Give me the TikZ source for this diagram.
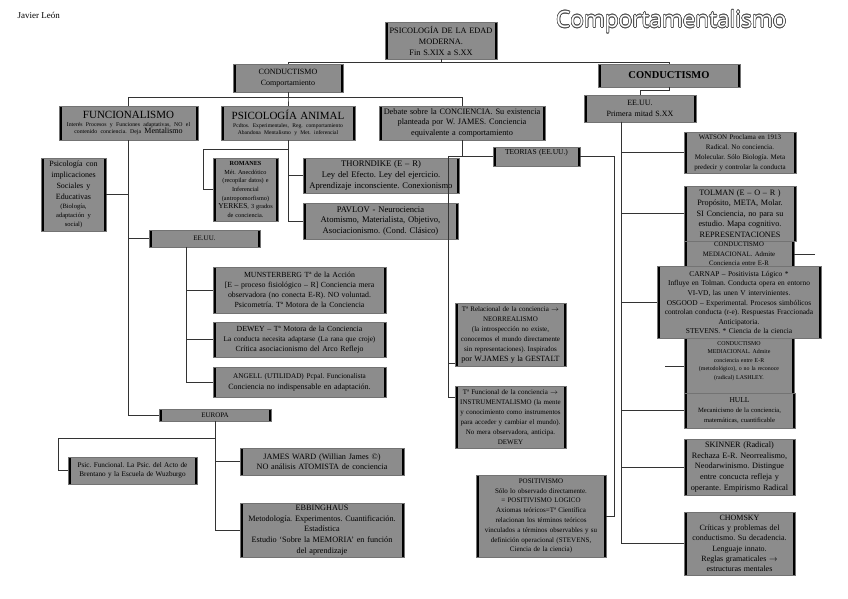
\documentclass[tikz,border=0pt]{standalone}
\usepackage{fontspec}
\setmainfont{Liberation Serif}
\newfontfamily\titlefont{Open Sans}
\usepackage{contour}
\contourlength{0.6pt}
\frenchspacing
\newcommand\fs[2]{\fontsize{#1}{#2}\selectfont}
\definecolor{boxgray}{HTML}{8C8C8C}
\tikzset{
  gbox/.style={fill=boxgray, draw=black!55, line width=0.4pt, inner xsep=0.5pt, inner ysep=0.5pt,
    align=center, text=black,
    path picture={\draw[line width=5pt, black]
      (path picture bounding box.north west) -- (path picture bounding box.south west)
      (path picture bounding box.north east) -- (path picture bounding box.south east);}},
  conn/.style={draw=black!80, line width=0.9pt},
  plain/.style={align=center, inner sep=0pt, text=black}
}
\begin{document}
\begin{tikzpicture}[x=1pt, y=-1pt]
\useasboundingbox (0,0) rectangle (848,599);

\node[anchor=west, font=\fs{9}{11}] (author) at (14,15) {Javier León};
\node[anchor=west, inner sep=0pt] (title) at (556,22) {\fs{22.5}{26}\titlefont\contour{black!70}{\textcolor{white}{Comportamentalismo}}};

% ---- boxes ----
\node[gbox, minimum width=112, minimum height=37, text width=111, font=\fs{8.3}{11}] (top) at (441,40.5)
  {PSICOLOGÍA DE LA EDAD\\MODERNA.\\Fin S.XIX a S.XX};
\node[gbox, minimum width=110, minimum height=28, text width=109, font=\fs{8}{11}] (cond1) at (288,78)
  {CONDUCTISMO\\Comportamiento};
\node[gbox, minimum width=142, minimum height=23, text width=141, font=\fs{10.5}{12}\bfseries] (cond2) at (669,75.5)
  {CONDUCTISMO};
\node[gbox, minimum width=112, minimum height=27, text width=111, font=\fs{8}{11}] (eeuu2) at (640,108.5)
  {EE.UU.\\Primera mitad S.XX};

\node[gbox, minimum width=139, minimum height=34, text width=138] (func) at (128.5,123)
  {{\fs{11}{12}FUNCIONALISMO\par}{\fs{5.8}{7.5}Interés Procesos y Funciones adaptativas, NO el\\contenido conciencia. Deja {\fs{8}{7.5}Mentalismo}\par}};
\node[gbox, minimum width=134, minimum height=34, text width=133] (panim) at (288,123)
  {{\fs{11}{12}PSICOLOGÍA ANIMAL\par}{\fs{5.6}{7.5}Pcdtos. Experimentales, Reg. comportamiento\\Abandona Mentalismo y Met. inferencial\par}};
\node[gbox, minimum width=166, minimum height=34, text width=165, font=\fs{8.3}{10.5}] (debate) at (462,123)
  {Debate sobre la CONCIENCIA. Su existencia\\planteada por W. JAMES. Conciencia\\equivalente a comportamiento};

\node[gbox, minimum width=65, minimum height=73, text width=64] (psocial) at (73.5,194.5)
  {{\fs{8}{10.8}Psicología con\\implicaciones\\Sociales y\\Educativas\par}{\fs{6.5}{9}(Biología,\\adaptación y\\social)\par}};
\node[gbox, minimum width=65, minimum height=63, text width=64, font=\fs{6.2}{8.6}] (romanes) at (245.5,189.5)
  {{\bfseries ROMANES}\\Mét. Anecdótico\\(recopilar datos) e\\Inferencial\\(antropomorfismo)\\{\fs{7.5}{8.6}YERKES}, 3 grados\\de conciencia.};
\node[gbox, minimum width=156, minimum height=35, text width=155, font=\fs{8.6}{11}] (thorn) at (381,175.5)
  {THORNDIKE (E – R)\\Ley del Efecto. Ley del ejercicio.\\Aprendizaje inconsciente. Conexionismo};
\node[gbox, minimum width=155, minimum height=36, text width=154, font=\fs{8.6}{10.5}] (pavlov) at (380.5,221)
  {PAVLOV - Neurociencia\\Atomismo, Materialista, Objetivo,\\Asociacionismo. (Cond. Clásico)};

\node[gbox, minimum width=111, minimum height=17, text width=110, font=\fs{7}{8}] (eeuu1) at (204.5,238.5) {EE.UU.};
\node[gbox, minimum width=173, minimum height=46, text width=172, font=\fs{7.8}{9.8}] (munst) at (299.5,290)
  {MUNSTERBERG Tª de la Acción\\{}[E – proceso fisiológico – R] Conciencia mera\\observadora (no conecta E-R). NO voluntad.\\Psicometría. Tª Motora de la Conciencia};
\node[gbox, minimum width=173, minimum height=35, text width=172, font=\fs{7.8}{10}] (dewey) at (299.5,339.5)
  {DEWEY – Tª Motora de la Conciencia\\{\fs{7.2}{10}La conducta necesita adaptarse (La rana que croje)}\\Crítica asociacionismo del Arco Reflejo};
\node[gbox, minimum width=173, minimum height=30, text width=172, font=\fs{8}{11}] (angell) at (299.5,382)
  {{\fs{7.2}{11}ANGELL (UTILIDAD) Pcpal. Funcionalista}\\Conciencia no indispensable en adaptación.};

\node[gbox, minimum width=112, minimum height=12, text width=111, font=\fs{7}{8}] (europa) at (215,415) {EUROPA};
\node[gbox, minimum width=129, minimum height=27, text width=128, font=\fs{7.2}{9.5}] (psicf) at (132.5,470.5)
  {Psic. Funcional. La Psic. del Acto de\\Brentano y la Escuela de Wuzburgo};
\node[gbox, minimum width=164, minimum height=27, text width=163, font=\fs{8.2}{10.5}] (jward) at (322,461.5)
  {JAMES WARD (Willian James ©)\\NO análisis ATOMISTA de conciencia};
\node[gbox, minimum width=164, minimum height=54, text width=163, font=\fs{8.2}{10.6}] (ebbing) at (322,530)
  {EBBINGHAUS\\Metodología. Experimentos. Cuantificación.\\Estadística\\Estudio ‘Sobre la MEMORIA’ en función\\del aprendizaje};

\node[gbox, minimum width=87, minimum height=19, text width=86, text depth=9pt, font=\fs{7.5}{9}] (teorias) at (536.5,156.5)
  {TEORIAS (EE.UU.)};
\node[gbox, minimum width=111, minimum height=63, text width=110, font=\fs{7}{10}] (trel) at (510.5,334.5)
  {Tª Relacional de la conciencia $\rightarrow$\\NEORREALISMO\\(la introspección no existe,\\conocemos el mundo directamente\\sin representaciones). Inspirados\\{\fs{8}{10}por W.JAMES y la GESTALT}};
\node[gbox, minimum width=111, minimum height=62, text width=110, font=\fs{7}{10}] (tfun) at (510.5,417)
  {Tª Funcional de la conciencia $\rightarrow$\\INSTRUMENTALISMO (la mente\\y conocimiento como instrumentos\\para acceder y cambiar el mundo).\\No mera observadora, anticipa.\\DEWEY};
\node[gbox, minimum width=130, minimum height=82, text width=129, font=\fs{7}{9.8}] (posit) at (541,516)
  {POSITIVISMO\\Sólo lo observado directamente.\\= POSITIVISMO LOGICO\\Axiomas teóricos=Tª Científica\\relacionan los términos teóricos\\vinculados a términos observables y su\\definición operacional (STEVENS,\\Ciencia de la ciencia)};

\node[gbox, minimum width=112, minimum height=41, text width=111, font=\fs{7}{10}] (watson) at (740,152.5)
  {WATSON Proclama en 1913\\Radical. No conciencia.\\Molecular. Sólo Biología. Meta\\predecir y controlar la conducta};
\node[gbox, minimum width=112, minimum height=55, text width=111, font=\fs{8.2}{10.6}] (tolman) at (740,213.5)
  {TOLMAN (E – O – R )\\Propósito, META, Molar.\\SI Conciencia, no para su\\estudio. Mapa cognitivo.\\REPRESENTACIONES};
\node[gbox, minimum width=110, minimum height=92] (med1) at (739,287) {};
\node[gbox, minimum width=110, minimum height=60] (med2) at (739,363) {};
\node[plain, text width=108, font=\fs{6.8}{9.5}] (med1t) at (739,254)
  {CONDUCTISMO\\MEDIACIONAL. Admite\\Conciencia entre E-R};
\node[gbox, minimum width=164, minimum height=72, text width=163, font=\fs{7.4}{9.6}] (carnap) at (739,302.5)
  {CARNAP – Positivista Lógico *\\Influye en Tolman. Conducta opera en entorno\\VI-VD, las unen V intervinientes.\\OSGOOD – Experimental. Procesos simbólicos\\controlan conducta (r-e). Respuestas Fraccionada\\Anticipatoria.\\STEVENS. * Ciencia de la ciencia};
\node[plain, text width=108, font=\fs{5.9}{8.4}] (med2t) at (739,361)
  {CONDUCTISMO\\MEDIACIONAL. Admite\\conciencia entre E-R\\(metodológico), o no la reconoce\\(radical) LASHLEY.};
\node[gbox, minimum width=111, minimum height=35, text width=110, font=\fs{6.6}{9.8}] (hull) at (739.5,410.5)
  {{\fs{7.5}{9.8}HULL}\\Mecanicismo de la conciencia,\\matemáticas, cuantificable};
\node[gbox, minimum width=111, minimum height=56, text width=110, font=\fs{8.2}{10.8}] (skinner) at (739.5,467)
  {SKINNER (Radical)\\Rechaza E-R. Neorrealismo,\\Neodarwinismo. Distingue\\entre concucta refleja y\\operante. Empirismo Radical};
\node[gbox, minimum width=111, minimum height=63, text width=110, font=\fs{8}{10.3}] (chomsky) at (739.5,543.5)
  {CHOMSKY\\Críticas y problemas del\\conductismo. Su decadencia.\\Lenguaje innato.\\Reglas gramaticales $\rightarrow$\\estructuras mentales};

% ---- connectors ----
\draw[conn] (top.south) -- ++(0,3) -| (cond1.north);
\draw[conn] (top.south) -- ++(0,3) -| (cond2.north);
\draw[conn] (cond2.south) -- ++(0,3) -| (eeuu2.north);
\draw[conn] (cond1.south) -- ++(0,5) -| (func.north);
\draw[conn] (cond1.south) -- ++(0,5) -| (panim.north);
\draw[conn] (cond1.south) -- ++(0,5) -| (debate.north);

\draw[conn] (func.south) |- (europa.west);
\draw[conn] (psocial.east) -- (psocial.east -| func.south);
\draw[conn] (eeuu1.west) -- (eeuu1.west -| func.south);

\draw[conn] (panim.south) |- (pavlov.west);
\draw[conn] (thorn.west) -- (thorn.west -| panim.south);
\coordinate (rj) at (203,149);
\draw[conn] (panim.south |- rj) -- (rj) |- (romanes.west);

\coordinate (ej) at (186,247);
\draw[conn] (ej) |- (munst.west);
\draw[conn] (ej) |- (dewey.west);
\draw[conn] (ej) |- (angell.west);

\draw[conn] (europa.south) |- (ebbing.west);
\draw[conn] (europa.south) |- (jward.west);
\coordinate (pj) at (58,438);
\draw[conn] (europa.south |- pj) -- (pj) |- (psicf.west);

\draw[conn] (debate.south) |- (teorias.west);
\coordinate (tj) at (448,156.5);
\draw[conn] (tj) -- (teorias.west);
\draw[conn] (tj) |- ([yshift=3pt]trel.south west);
\draw[conn] (tj) |- ([yshift=20pt]tfun.west);

\coordinate (qj) at (614,156.5);
\draw[conn] (teorias.east) -- (qj) |- (posit.east);

\coordinate (sj) at (621,122);
\draw[conn] (sj) |- (watson.west);
\draw[conn] (sj) |- (tolman.west);
\draw[conn] (sj) |- (carnap.west);
\draw[conn] (sj) |- (hull.west);
\draw[conn] (sj) |- (skinner.west);
\draw[conn] (sj) |- (chomsky.west);

\coordinate (f1) at (815,254);
\draw[conn] (f1) -- (f1 -| med1.east);
\coordinate (f2) at (665,366);
\draw[conn] (f2) -- (f2 -| med2.west);
\end{tikzpicture}
\end{document}
